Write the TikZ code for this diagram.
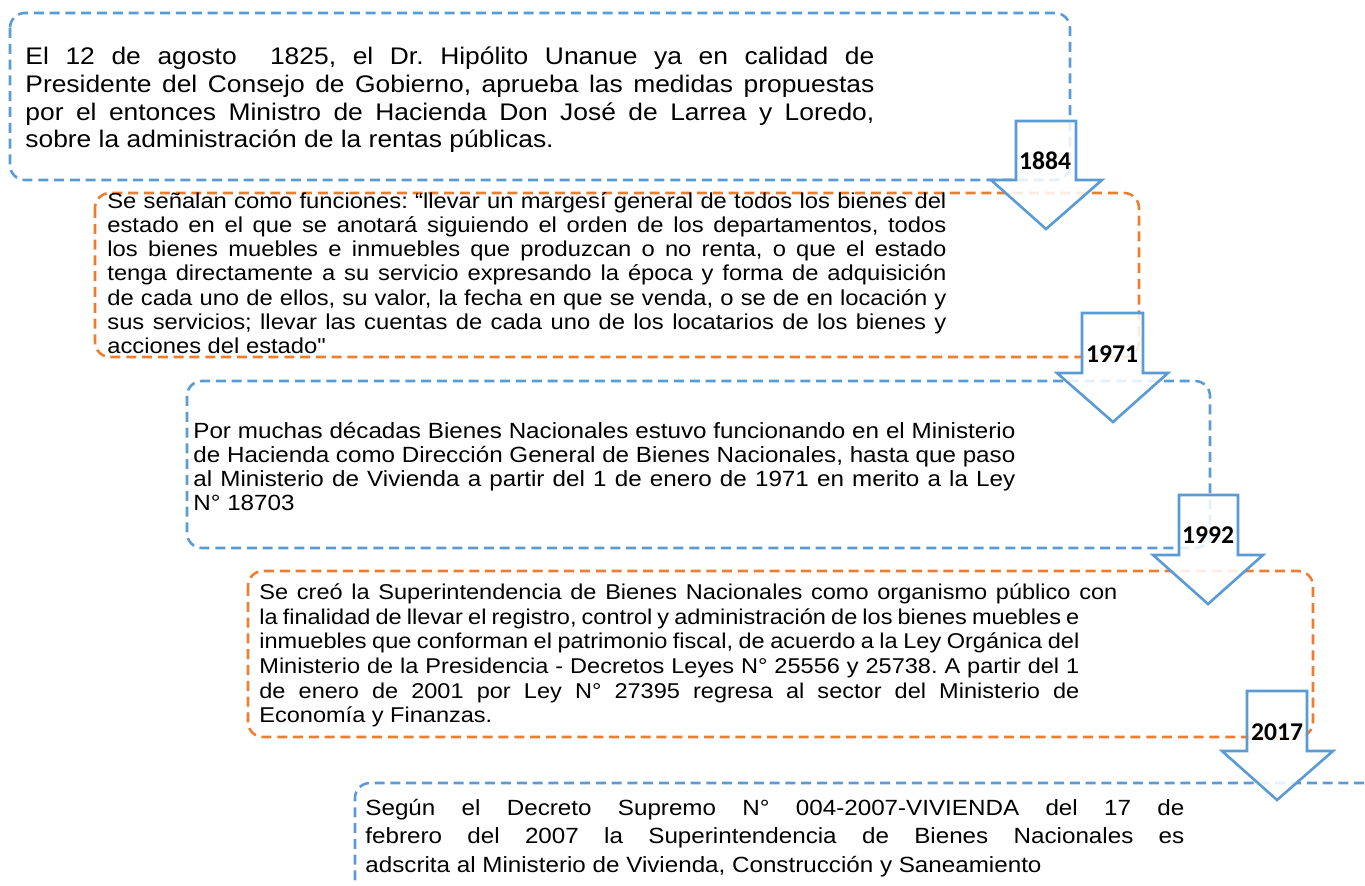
\documentclass[tikz,border=0pt]{standalone}
\usepackage{fontspec}
\setmainfont{Liberation Sans}[FakeStretch=1.1, Ligatures=TeXOff]
\newfontfamily\cifras{Carlito}
\usepackage{tikz}
\definecolor{azulmarco}{RGB}{91,155,213}
\definecolor{naranjamarco}{RGB}{237,125,49}
\tolerance=10000
\hbadness=10000
\hfuzz=30pt
\hyphenpenalty=10000
\frenchspacing
\tikzset{
	marcoazul/.style={draw=azulmarco, line width=1.3pt, dash pattern=on 5pt off 2.9pt, rounded corners=7.5pt},
	marconaranja/.style={draw=naranjamarco, line width=1.3pt, dash pattern=on 5pt off 2.9pt, rounded corners=7.5pt},
	flechaanio/.style={draw=azulmarco, line width=1.3pt, fill=white, fill opacity=0.85, line join=miter},
	anio/.style={inner sep=0pt, font=\cifras\bfseries\fontsize{12.8}{12.8}\selectfont},
	parrafo/.style={anchor=north west, inner sep=0pt, align=justify}
}
\begin{document}
\begin{tikzpicture}[x=0.5pt,y=-0.5pt]
			\useasboundingbox (0,0) rectangle (1365,886);
			\clip (0,0) rectangle (1365,886);
			\draw[marcoazul] (10,13) rectangle (1070,180);
			\draw[marconaranja] (95,193) rectangle (1139,357);
			\draw[marcoazul] (187,381) rectangle (1210,548);
			\draw[marconaranja] (248,571) rectangle (1313,737);
			\draw[marcoazul] (1380,783) -- (355,783) -- (355,900);
			\node[parrafo, text width=424.5pt, font=\fontsize{12}{13.85}\selectfont] (texto1825) at (25,45) {\strut El 12 de agosto\ \ 1825, el Dr. Hipólito Unanue ya en calidad de\linebreak Presidente del Consejo de Gobierno, aprueba las medidas propuestas\linebreak por el entonces Ministro de Hacienda Don José de Larrea y Loredo,\linebreak sobre la administración de la rentas públicas.};
			\node[parrafo, text width=419.5pt, font=\fontsize{10.8}{12.1}\selectfont] (texto1884) at (107,191) {\strut Se señalan como funciones: “llevar un margesí general de todos los bienes del\linebreak estado en el que se anotará siguiendo el orden de los departamentos, todos\linebreak los bienes muebles e inmuebles que produzcan o no renta, o que el estado\linebreak tenga directamente a su servicio expresando la época y forma de adquisición\linebreak de cada uno de ellos, su valor, la fecha en que se venda, o se de en locación y\linebreak sus servicios; llevar las cuentas de cada uno de los locatarios de los bienes y\linebreak acciones del estado"};
			\node[parrafo, text width=411pt, font=\fontsize{11}{12}\selectfont] (texto1971) at (193,421) {\strut Por muchas décadas Bienes Nacionales estuvo funcionando en el Ministerio\linebreak de Hacienda como Dirección General de Bienes Nacionales, hasta que paso\linebreak al Ministerio de Vivienda a partir del 1 de enero de 1971 en merito a la Ley\linebreak N° 18703};
			\node[parrafo, text width=410pt, font=\fontsize{10.7}{12.3}\selectfont] (texto1992) at (259,582) {\strut\makebox[429pt][s]{Se creó la Superintendencia de Bienes Nacionales como organismo público con}\\ la finalidad de llevar el registro, control y administración de los bienes muebles e\linebreak inmuebles que conforman el patrimonio fiscal, de acuerdo a la Ley Orgánica del\linebreak Ministerio de la Presidencia - Decretos Leyes N° 25556 y 25738. A partir del 1\linebreak de enero de 2001 por Ley N° 27395 regresa al sector del Ministerio de\linebreak Economía y Finanzas.};
			\node[parrafo, text width=409.5pt, font=\fontsize{11}{14.2}\selectfont] (texto2017) at (365,795) {\strut Según el Decreto Supremo N° 004-2007-VIVIENDA del 17 de\linebreak febrero del 2007 la Superintendencia de Bienes Nacionales es\linebreak adscrita al Ministerio de Vivienda, Construcción y Saneamiento};
			\draw[flechaanio] (1016,121) -- (1076,121) -- (1076,180) -- (1102,180) -- (1046,229) -- (991,180) -- (1016,180) -- cycle;
			\draw[flechaanio] (1082,313) -- (1143,313) -- (1143,373) -- (1168,373) -- (1113,422) -- (1057,373) -- (1082,373) -- cycle;
			\draw[flechaanio] (1179,495) -- (1238,495) -- (1238,555) -- (1263,555) -- (1208,604) -- (1153,555) -- (1179,555) -- cycle;
			\draw[flechaanio] (1247,691) -- (1307,691) -- (1307,751) -- (1333,751) -- (1277,800) -- (1222,751) -- (1247,751) -- cycle;
			\node[anio] (a1884) at (1045,161) {1884};
			\node[anio] (a1971) at (1112,354) {1971};
			\node[anio] (a1992) at (1208,535) {1992};
			\node[anio] (a2017) at (1277,732) {2017};
\end{tikzpicture}
\end{document}
